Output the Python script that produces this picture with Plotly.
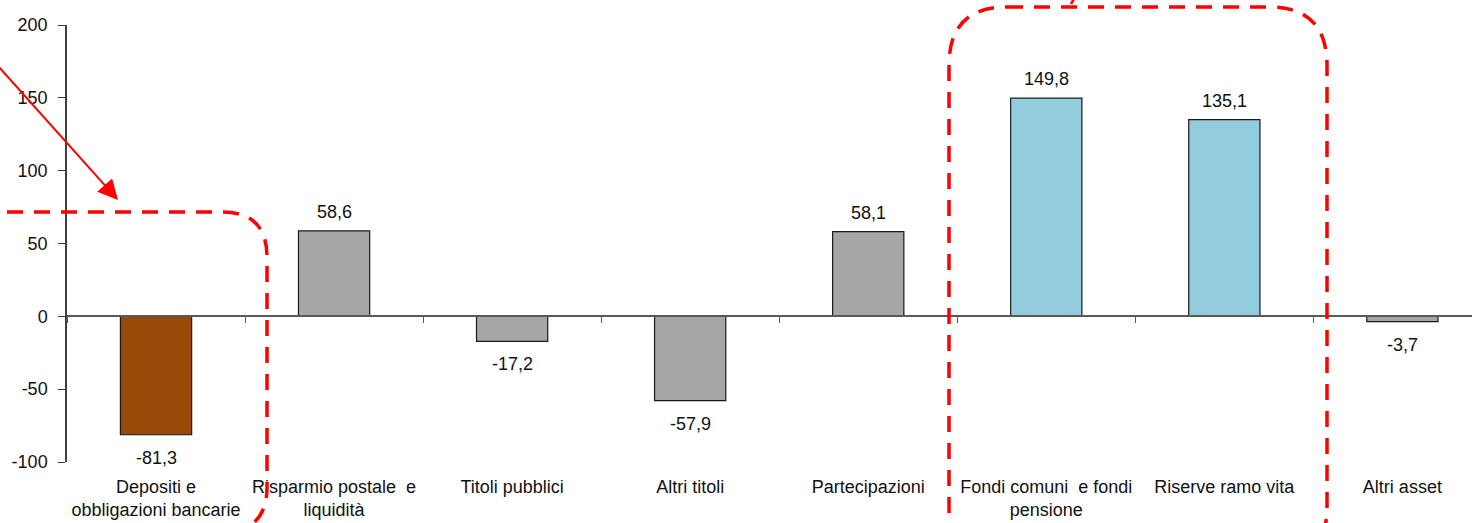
import plotly.graph_objects as go

categories = ["Depositi e<br>obbligazioni bancarie", "Risparmio postale  e<br>liquidità",
              "Titoli pubblici", "Altri titoli", "Partecipazioni",
              "Fondi comuni  e fondi<br>pensione", "Riserve ramo vita", "Altri asset"]
values = [-81.3, 58.6, -17.2, -57.9, 58.1, 149.8, 135.1, -3.7]
value_labels = ["-81,3", "58,6", "-17,2", "-57,9", "58,1", "149,8", "135,1", "-3,7"]
bar_colors = ["#984807", "#A6A6A6", "#A6A6A6", "#A6A6A6", "#A6A6A6", "#93CDDD", "#93CDDD", "#A6A6A6"]
y_ticks = [-100, -50, 0, 50, 100, 150, 200]
y_tick_labels = ["-100", "-50", "0", "50", "100", "150", "200"]

W, H = 1472, 523
ML, MT, MR, MB = 67, 25, 0, 61
PW = W - ML - MR
PH = H - MT - MB
FONT = "Liberation Sans, Arial, sans-serif"
FS = 18

xs = list(range(len(categories)))
x_range = [-0.5, -0.5 + PW / 178.05]


def px(x):
    return (x - ML) / PW


def py(y):
    return (MT + PH - y) / PH


def P(x, y):
    return f"{px(x):.5f},{py(y):.5f}"


def rounded_rect(x0, y0, x1, y1, r):
    return (f"M {P(x0 + r, y0)} L {P(x1 - r, y0)} Q {P(x1, y0)} {P(x1, y0 + r)} "
            f"L {P(x1, y1 - r)} Q {P(x1, y1)} {P(x1 - r, y1)} L {P(x0 + r, y1)} "
            f"Q {P(x0, y1)} {P(x0, y1 - r)} L {P(x0, y0 + r)} Q {P(x0, y0)} {P(x0 + r, y0)} Z")


fig = go.Figure()
fig.add_trace(go.Bar(
    x=xs, y=values, width=0.4,
    marker=dict(color=bar_colors, line=dict(color="#1a1a1a", width=1.2)),
    showlegend=False, hoverinfo="skip",
))
fig.add_trace(go.Scatter(x=[], y=[], xaxis="x2", showlegend=False, hoverinfo="skip"))

for xv, v, lab in zip(xs, values, value_labels):
    fig.add_annotation(x=xv, y=v, text=lab, showarrow=False,
                       yanchor="bottom" if v >= 0 else "top",
                       yshift=7 if v >= 0 else -11,
                       font=dict(family=FONT, size=FS, color="#111111"))

red_line = dict(color="#FF0000", width=3.5, dash="16px,11px")
fig.add_shape(type="path", xref="paper", yref="paper",
              path=rounded_rect(-200, 212, 267, 532, 45), line=red_line)
fig.add_shape(type="path", xref="paper", yref="paper",
              path=rounded_rect(949, 7, 1327, 565, 58), line=red_line)
fig.add_shape(type="path", xref="paper", yref="paper",
              path=f"M {P(1078, -8)} L {P(1071, 4)}", line=dict(color="#FF0000", width=2.5))

fig.add_annotation(x=px(118), y=py(200), xref="x domain", yref="y domain",
                   ax=px(-2), ay=py(66), axref="x domain", ayref="y domain", text="",
                   showarrow=True, arrowhead=2, arrowsize=2, arrowwidth=2, arrowcolor="#FF0000")

fig.update_layout(
    width=W, height=H,
    margin=dict(l=ML, r=MR, t=MT, b=MB, autoexpand=False),
    plot_bgcolor="white", paper_bgcolor="white",
    font=dict(family=FONT, size=FS, color="#111111"),
    bargap=0.6,
    xaxis=dict(range=x_range, tickmode="array", tickvals=xs, ticktext=categories,
               tickangle=0, showline=False, ticks="", showgrid=False, zeroline=False,
               automargin=False, ticklabelstandoff=12,
               tickfont=dict(family=FONT, size=FS, color="#111111")),
    xaxis2=dict(range=x_range, overlaying="x", anchor="free", position=1 / 3, side="bottom",
                showline=True, linecolor="#595959", linewidth=1.7, automargin=False,
                tickmode="array", tickvals=[v - 0.5 for v in range(len(categories) + 1)],
                ticks="outside", ticklen=6, tickwidth=1.2, tickcolor="#595959",
                showticklabels=False, showgrid=False, zeroline=False),
    yaxis=dict(range=[-100, 200], tickmode="array", tickvals=y_ticks, ticktext=y_tick_labels,
               showline=True, linecolor="#404040", linewidth=1.5, automargin=False,
               ticks="outside", ticklen=7, tickwidth=1.2, tickcolor="#404040",
               showgrid=False, zeroline=False, ticklabelstandoff=7,
               tickfont=dict(family=FONT, size=FS, color="#111111")),
)

fig.write_html("out.html", config={"displayModeBar": False},
               post_script="document.body.style.margin='0';")
